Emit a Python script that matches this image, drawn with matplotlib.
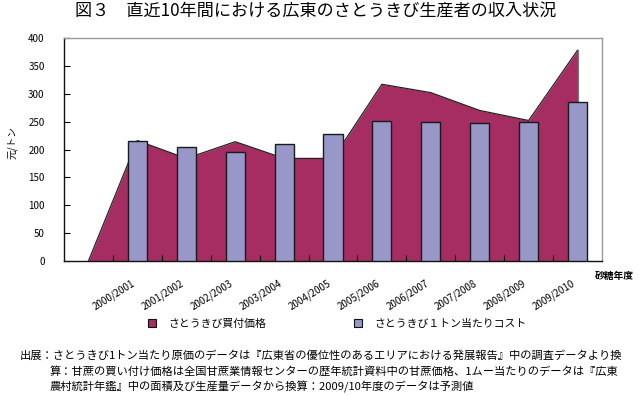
"""
Area + bar combo chart: Guangdong sugarcane grower income (price vs. cost per ton)
"""
import matplotlib
matplotlib.use('Agg')
import matplotlib.pyplot as plt
import matplotlib.transforms as mtransforms
from matplotlib.lines import Line2D

plt.rcParams['font.family'] = ['Noto Sans CJK JP', 'DejaVu Sans']

# Data (first slot is an empty category, as in the original sheet)
categories = ['', '2000/2001', '2001/2002', '2002/2003', '2003/2004', '2004/2005',
              '2005/2006', '2006/2007', '2007/2008', '2008/2009', '2009/2010']
purchase_price = [0, 216, 184, 214, 184, 184, 317, 302, 270, 252, 378]
cost_per_ton = [None, 216, 204, 196, 209, 227, 252, 249, 247, 250, 286]
legend_labels = ['さとうきび買付価格', 'さとうきび１トン当たりコスト']

PRICE_COLOR = '#A52D62'
COST_COLOR = '#9797C8'

fig = plt.figure(figsize=(6.39, 3.95), dpi=100)
ax = fig.add_axes([64 / 639, 1 - 261 / 395, 538 / 639, 223 / 395])

x = list(range(len(categories)))

# Area series (price)
ax.fill_between(x, purchase_price, 0, color=PRICE_COLOR, linewidth=0, zorder=1)
ax.plot(x, purchase_price, color='#222222', linewidth=0.9, zorder=2)
ax.plot([x[-1], x[-1]], [0, purchase_price[-1]], color='#777777', linewidth=0.9, zorder=2)

# Bar series (cost)
bar_x = [i for i, v in zip(x, cost_per_ton) if v is not None]
bar_h = [v for v in cost_per_ton if v is not None]
ax.bar(bar_x, bar_h, width=0.39, color=COST_COLOR, edgecolor='#1a1a1a',
       linewidth=1.0, zorder=3)

ax.set_xlim(-0.5, len(categories) - 0.5)
ax.set_ylim(0, 400)
ax.set_yticks(range(0, 401, 50))

# category boundaries get tick marks, labels sit at centers without marks
ax.set_xticks([i + 0.5 for i in range(len(categories) - 1)], minor=True)
ax.set_xticks(x)
ax.set_xticklabels(categories, rotation=32, ha='right', va='top',
                   rotation_mode='anchor', fontsize=7)
ax.tick_params(axis='x', which='major', length=0, pad=12)
ax.tick_params(axis='x', which='minor', direction='in', length=4, width=0.8)
ax.tick_params(axis='y', direction='in', length=4, width=0.8, labelsize=7, pad=14)
shift = mtransforms.ScaledTranslation(-6 / 100, 0, fig.dpi_scale_trans)
for lbl in ax.get_xticklabels():
    lbl.set_transform(lbl.get_transform() + shift)

for side in ('left', 'bottom'):
    ax.spines[side].set_color('#111111')
    ax.spines[side].set_linewidth(1.0)
for side in ('top', 'right'):
    ax.spines[side].set_color('#9a9a9a')
    ax.spines[side].set_linewidth(1.0)

# Title, axis captions
fig.text(316 / 639, 1 - 12 / 395, '図３　直近10年間における広東のさとうきび生産者の収入状況',
         ha='center', va='center', fontsize=12.3)
fig.text(12 / 639, 1 - 143 / 395, '元/トン', rotation=90, ha='center', va='center',
         fontsize=7)
fig.text(595 / 639, 1 - 276 / 395, '砂糖年度', ha='left', va='center', fontsize=7,
         weight='bold')

# Legend (two separate entries placed like the original)
colors = [PRICE_COLOR, COST_COLOR]
anchors = [147, 353]
for label, color, ax0 in zip(legend_labels, colors, anchors):
    handle = Line2D([], [], marker='s', linestyle='none', markersize=6,
                    markerfacecolor=color, markeredgecolor='#111111',
                    markeredgewidth=0.8)
    fig.legend([handle], [label], loc='center left',
               bbox_to_anchor=(ax0 / 639, 1 - 324 / 395), frameon=False,
               fontsize=7.8, handlelength=1.0, handletextpad=1.0,
               borderpad=0, borderaxespad=0)

# Source note
notes = [
    (20, 355, '出展：さとうきび1トン当たり原価のデータは『広東省の優位性のあるエリアにおける発展報告』中の調査データより換'),
    (50, 371, '算：甘蔗の買い付け価格は全国甘蔗業情報センターの歴年統計資料中の甘蔗価格、1ムー当たりのデータは『広東'),
    (50, 387, '農村統計年鑑』中の面積及び生産量データから換算：2009/10年度のデータは予測値'),
]
for nx, ny, txt in notes:
    fig.text(nx / 639, 1 - ny / 395, txt, ha='left', va='center', fontsize=8.1)

fig.savefig('out.png', dpi=100)
